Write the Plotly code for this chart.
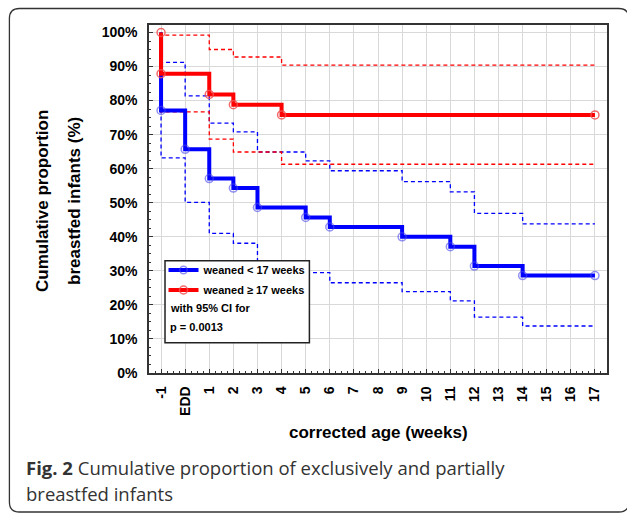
import plotly.graph_objects as go

# ---------------- data ----------------
week_ticks = list(range(-1, 18))
week_labels = ["-1", "EDD"] + [str(w) for w in range(1, 18)]
pct_ticks = [i / 10 for i in range(11)]

blue_name = "weaned < 17 weeks"
blue_t = [-1, -1, 0, 1, 2, 3, 5, 6, 9, 11, 12, 14, 17]
blue_v = [1.0, 0.771, 0.657, 0.571, 0.543, 0.486, 0.457, 0.429, 0.400, 0.371, 0.314, 0.286, 0.286]
blue_hi = [1.0, 0.912, 0.814, 0.734, 0.708, 0.649, 0.623, 0.594, 0.562, 0.532, 0.469, 0.438, 0.438]
blue_lo = [1.0, 0.632, 0.501, 0.410, 0.381, 0.325, 0.295, 0.265, 0.239, 0.212, 0.164, 0.138, 0.138]

red_name = "weaned \u2265 17 weeks"
red_t = [-1, -1, 1, 2, 4, 17]
red_v = [1.0, 0.879, 0.818, 0.788, 0.758, 0.758]
red_hi = [1.0, 0.992, 0.950, 0.928, 0.904, 0.904]
red_lo = [1.0, 0.767, 0.687, 0.649, 0.613, 0.613]

legend_extra = ["with 95% CI for", "p = 0.0013"]
x_title = "corrected age (weeks)"
y_title = ["Cumulative proportion", "breastfed infants (%)"]
caption = ["<b>Fig. 2</b> Cumulative proportion of exclusively and partially", "breastfed infants"]

# ---------------- layout geometry ----------------
W, H = 627, 515
L, R, T, B = 149, 606.7, 25, 373
PW, PH = R - L, B - T


def px(xp):
    return (xp - L) / PW


def py(yp):
    return (B - yp) / PH


FONT = "Liberation Sans, Arial, sans-serif"
BLUE, RED = "#0000ff", "#ff0000"

fig = go.Figure()

# confidence limits
for t, v, c in [(blue_t, blue_hi, BLUE), (blue_t, blue_lo, BLUE), (red_t, red_hi, RED), (red_t, red_lo, RED)]:
    fig.add_trace(go.Scatter(x=t, y=v, mode="lines", line=dict(color=c, width=1.3, dash="4px,3px", shape="hv"),
                             showlegend=False, hoverinfo="skip"))

# survival curves
fig.add_trace(go.Scatter(x=blue_t, y=blue_v, name=blue_name, legendgroup="a", mode="lines+markers",
                         line=dict(color=BLUE, width=4, shape="hv"),
                         marker=dict(symbol="circle-open", size=[0] + [8] * (len(blue_t) - 1),
                                     color="rgba(70,70,235,0.85)", line=dict(width=1.5, color="rgba(70,70,235,0.85)"))))
fig.add_trace(go.Scatter(x=red_t, y=red_v, name=red_name, legendgroup="b", mode="lines+markers",
                         line=dict(color=RED, width=4, shape="hv"),
                         marker=dict(symbol="circle-open", size=8,
                                     color="rgba(240,80,80,0.85)", line=dict(width=1.5, color="rgba(240,80,80,0.85)"))))

axis_common = dict(showline=True, linecolor="#333", linewidth=1.5, mirror=True,
                   ticks="inside", ticklen=4, tickcolor="#333", tickwidth=1,
                   showgrid=True, gridcolor="#d9d9d9", gridwidth=1, zeroline=False,
                   tickfont=dict(family=FONT, size=14, color="black", weight="bold"))

fig.update_layout(
    width=W, height=H,
    margin=dict(l=L, r=W - R, t=T, b=H - B, pad=0),
    paper_bgcolor="white", plot_bgcolor="white",
    xaxis=dict(range=[-1.5, 17.5], tickmode="array", tickvals=week_ticks, ticktext=week_labels,
               tickangle=-90, ticklabelstandoff=6,
               minor=dict(dtick=0.25, ticks="inside", ticklen=2, tickcolor="#333", showgrid=False),
               **axis_common),
    yaxis=dict(range=[0, 1.022], tickmode="array", tickvals=pct_ticks, tickformat=".0%",
               ticklabelstandoff=7,
               minor=dict(dtick=0.025, ticks="inside", ticklen=2, tickcolor="#333", showgrid=False),
               **axis_common),
    xaxis2=dict(overlaying="x", side="top", anchor="y", range=[0, 22], dtick=1, ticks="inside", ticklen=3,
                tickcolor="#333", showticklabels=False, showgrid=False, showline=False, zeroline=False),
    yaxis2=dict(overlaying="y", side="right", anchor="x", range=[0, 14], dtick=1, ticks="inside", ticklen=3,
                tickcolor="#333", showticklabels=False, showgrid=False, showline=False, zeroline=False),
    showlegend=True,
    legend=dict(x=px(163.5), y=py(255.5), xanchor="left", yanchor="top", bgcolor="rgba(0,0,0,0)",
                borderwidth=0, font=dict(family=FONT, size=11, color="black", weight="bold"),
                traceorder="grouped", tracegroupgap=1),
)

# legend frame
fig.add_shape(type="rect", xref="paper", yref="paper", x0=px(165), x1=px(309.3), y0=py(342.7), y1=py(260.7),
              line=dict(color="#222", width=1.5), fillcolor="white", layer="above")

for txt, yy in zip(legend_extra, [308.3, 326.7]):
    fig.add_annotation(text=txt, xref="paper", yref="paper", x=px(168), y=py(yy), xanchor="left",
                       yanchor="middle", showarrow=False,
                       font=dict(family=FONT, size=11, color="black", weight="bold"))

# axis titles
for txt, xx in zip(y_title, [42, 74]):
    fig.add_annotation(text=txt, xref="paper", yref="paper", x=px(xx), y=py(201), textangle=-90,
                       xanchor="center", yanchor="middle", showarrow=False,
                       font=dict(family=FONT, size=17, color="black", weight="bold"))
fig.add_annotation(text=x_title, xref="paper", yref="paper", x=px(378), y=py(432), xanchor="center",
                   yanchor="middle", showarrow=False, font=dict(family=FONT, size=17, color="black", weight="bold"))

# caption
for txt, yy in zip(caption, [467, 493]):
    fig.add_annotation(text=txt, xref="paper", yref="paper", x=px(24), y=py(yy), xanchor="left",
                       yanchor="middle", showarrow=False,
                       font=dict(family="Open Sans, sans-serif", size=18.5, color="#333"))

# rounded outer frame
x0, x1, y0, y1, r = 9.5, 628.5, 8.5, 512, 10
path = (f"M {px(x0)},{py(y0 + r)} Q {px(x0)},{py(y0)} {px(x0 + r)},{py(y0)} "
        f"L {px(x1 - r)},{py(y0)} Q {px(x1)},{py(y0)} {px(x1)},{py(y0 + r)} "
        f"L {px(x1)},{py(y1 - r)} Q {px(x1)},{py(y1)} {px(x1 - r)},{py(y1)} "
        f"L {px(x0 + r)},{py(y1)} Q {px(x0)},{py(y1)} {px(x0)},{py(y1 - r)} Z")
fig.add_shape(type="path", xref="paper", yref="paper", path=path, line=dict(color="#333", width=1.3),
              layer="below")

fig.write_html("out.html", config={"displayModeBar": False},
               post_script="document.body.style.margin='0';document.body.style.overflow='hidden';")
